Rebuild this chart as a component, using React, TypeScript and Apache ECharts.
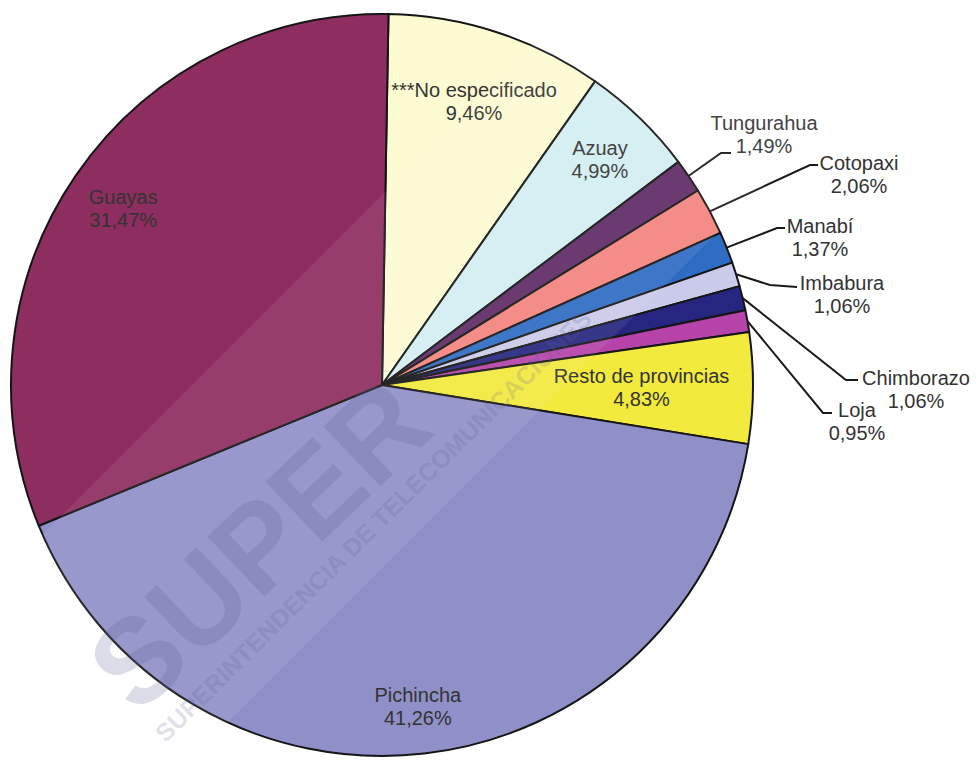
import React, { useEffect, useRef } from 'react';
import * as echarts from 'echarts';

// ---- data ----
const categories = [
  '***No especificado',
  'Azuay',
  'Tungurahua',
  'Cotopaxi',
  'Manabí',
  'Imbabura',
  'Chimborazo',
  'Loja',
  'Resto de provincias',
  'Pichincha',
  'Guayas',
];
const shares = [9.46, 4.99, 1.49, 2.06, 1.37, 1.06, 1.06, 0.95, 4.83, 41.26, 31.47];
const insideLabelNames = ['***No especificado', 'Azuay', 'Resto de provincias', 'Pichincha', 'Guayas'];

// ---- styling ----
const sliceColors = [
  '#FDFBD2', // No especificado
  '#D3EEF2', // Azuay
  '#5E2A64', // Tungurahua
  '#F4837D', // Cotopaxi
  '#2F6CC4', // Manabí
  '#CACAEA', // Imbabura
  '#262680', // Chimborazo
  '#B543A8', // Loja
  '#F2EA3C', // Resto
  '#9090C8', // Pichincha
  '#8E2D5F', // Guayas
];

// outside label anchors (text block centre) and leader line bends
const outsideLayout: Record<string, { x: number; y: number; elbow: number[]; end: number[] }> = {
  Tungurahua: { x: 764, y: 134, elbow: [721, 153], end: [731, 153] },
  Cotopaxi: { x: 859, y: 174, elbow: [810, 165], end: [818, 165] },
  'Manabí': { x: 820, y: 237, elbow: [777, 228], end: [785, 228] },
  Imbabura: { x: 842, y: 294, elbow: [770, 285], end: [797, 287] },
  Chimborazo: { x: 916, y: 389, elbow: [846, 380], end: [858, 380] },
  Loja: { x: 857, y: 421, elbow: [823, 413], end: [832, 413] },
};
const insideShift: Record<string, number[]> = {
  'Resto de provincias': [-54, 0],
  '***No especificado': [-5, 15],
  Pichincha: [0, 10],
};

const CENTER = [382, 385];
const RADIUS = 371;
const FONT = '"Liberation Sans", Arial, sans-serif';

const fmt = (p: any) => `${p.name}\n${Number(p.value).toFixed(2).replace('.', ',')}%`;

export default function App() {
  const ref = useRef<HTMLDivElement>(null);
  useEffect(() => {
    if (!ref.current) return;
    const chart = echarts.init(ref.current, undefined, { renderer: 'svg' });
    const labelStyle = {
      formatter: fmt,
      color: '#333',
      fontSize: 20,
      lineHeight: 23,
      fontFamily: FONT,
      align: 'center',
    };
    chart.setOption({
      animation: false,
      backgroundColor: '#ffffff',
      series: [
        {
          type: 'pie',
          center: CENTER,
          radius: RADIUS,
          startAngle: 89,
          clockwise: true,
          avoidLabelOverlap: false,
          itemStyle: { borderColor: '#151515', borderWidth: 2 },
          label: { ...labelStyle, position: 'outside' },
          labelLine: { show: true, length: 20, length2: 10, smooth: false, lineStyle: { color: '#1a1a1a', width: 2 } },
          emphasis: { disabled: true },
          data: categories.map((name, i) => {
            const inside = insideLabelNames.includes(name);
            return {
              name,
              value: shares[i],
              itemStyle: { color: sliceColors[i] },
              label: { show: !inside },
              labelLine: { show: !inside },
            };
          }),
          labelLayout: (p: any) => {
            const L = outsideLayout[categories[p.dataIndex]];
            if (!L) return {};
            const start = p.labelLinePoints && p.labelLinePoints[0];
            const out: any = { x: L.x, y: L.y, align: 'center', verticalAlign: 'middle' };
            if (start) out.labelLinePoints = [start, L.elbow, L.end];
            return out;
          },
        },
        {
          type: 'pie',
          center: CENTER,
          radius: [250, RADIUS],
          startAngle: 89,
          clockwise: true,
          silent: true,
          z: 3,
          avoidLabelOverlap: false,
          itemStyle: { color: 'rgba(0,0,0,0)', borderWidth: 0 },
          label: { ...labelStyle, position: 'inside' },
          labelLine: { show: false },
          emphasis: { disabled: true },
          data: categories.map((name, i) => ({
            name,
            value: shares[i],
            label: { show: insideLabelNames.includes(name) },
          })),
          labelLayout: (p: any) => {
            const s = insideShift[categories[p.dataIndex]];
            return s ? { dx: s[0], dy: s[1] } : {};
          },
        },
      ],
      graphic: [
        {
          type: 'polygon',
          z: 90,
          silent: true,
          shape: { points: [[577, 0], [950, 0], [0, 950], [0, 577]] },
          style: { fill: 'rgba(255,255,255,0.08)' },
        },
        {
          type: 'text',
          x: 150,
          y: 730,
          rotation: 0.76,
          z: 100,
          silent: true,
          style: {
            text: 'SUPER',
            fontSize: 120,
            fontWeight: 'bold',
            fontFamily: FONT,
            fill: 'rgba(95,95,150,0.22)',
            textVerticalAlign: 'bottom',
          },
        },
        {
          type: 'text',
          x: 168,
          y: 746,
          rotation: 0.78,
          z: 100,
          silent: true,
          style: {
            text: 'SUPERINTENDENCIA DE TELECOMUNICACIONES',
            fontSize: 25,
            fontWeight: 'bold',
            fontFamily: FONT,
            fill: 'rgba(95,95,150,0.2)',
            textVerticalAlign: 'bottom',
          },
        },
      ],
    });
    return () => chart.dispose();
  }, []);
  return (
    <div
      ref={ref}
      style={{ position: 'fixed', left: 0, top: 0, width: 978, height: 760, background: '#fff' }}
    />
  );
}
